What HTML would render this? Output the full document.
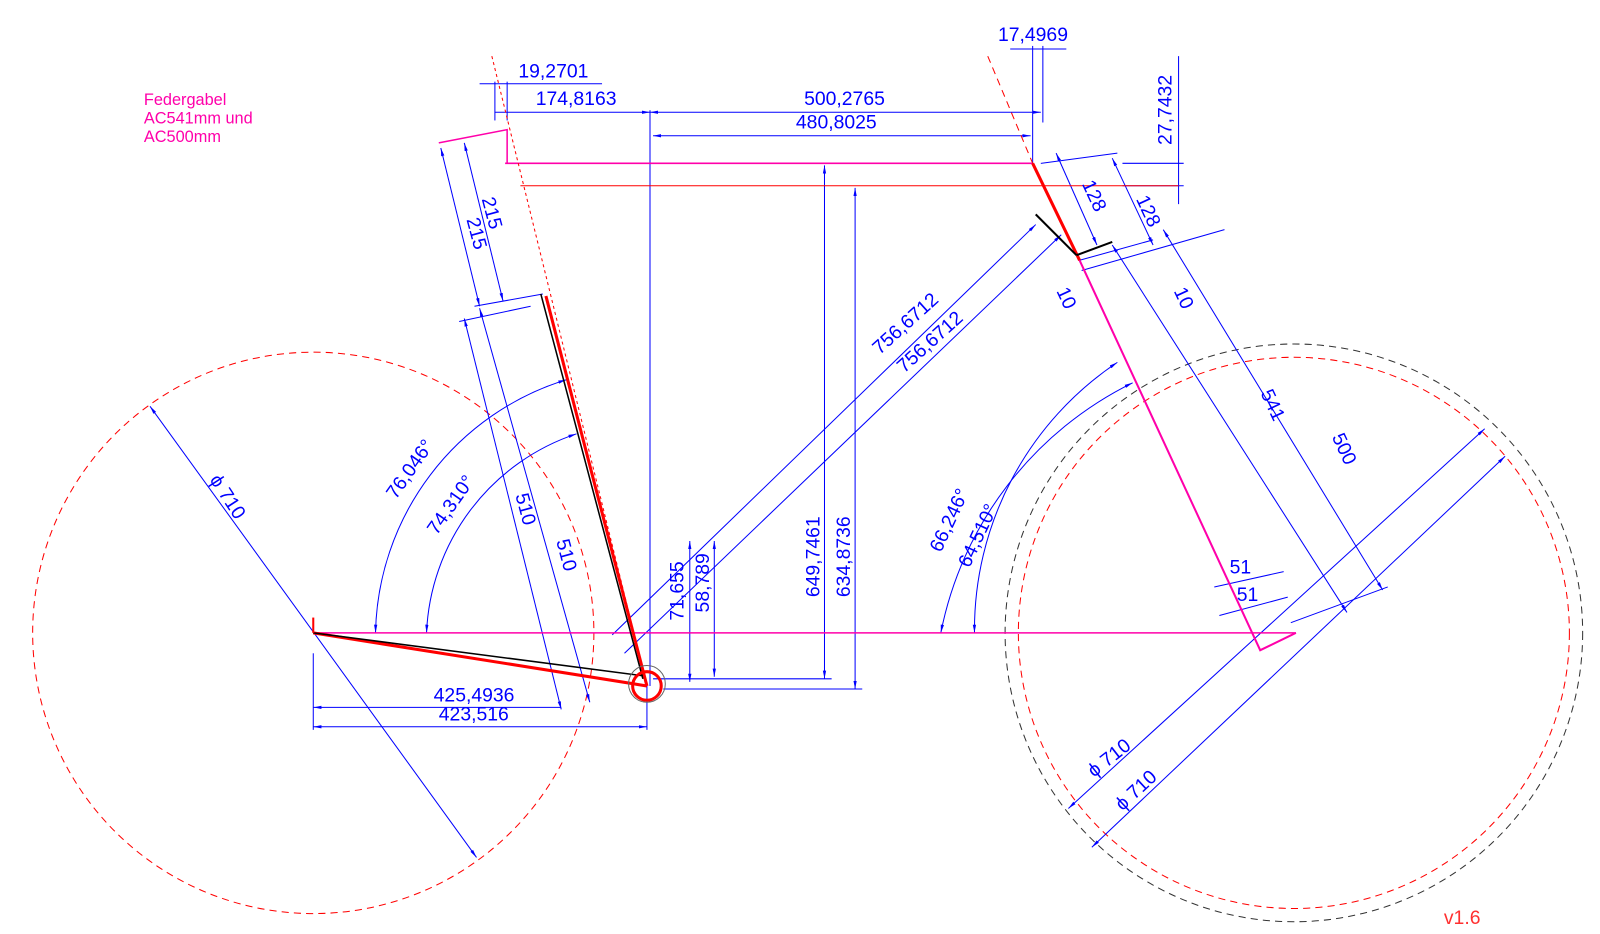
<!DOCTYPE html>
<html><head><meta charset="utf-8"><style>
html,body{margin:0;padding:0;background:#fff;}
svg{display:block;}
text{font-family:"Liberation Sans",sans-serif;font-size:19px;fill:#0000ff;}
.m{fill:#ff00aa;font-size:16px;}
</style></head><body>
<svg width="1600" height="934" viewBox="0 0 1568 915" preserveAspectRatio="none" xmlns="http://www.w3.org/2000/svg">
<defs>
<marker id="a" viewBox="0 0 10 10" refX="10" refY="5" markerWidth="8" markerHeight="8" orient="auto-start-reverse"><path d="M0,3L10,5L0,7z" fill="#0000ff"/></marker>
</defs>
<circle cx="307" cy="620" r="275" fill="none" stroke="#ff0000" stroke-dasharray="7,5" stroke-width="1"/>
<circle cx="1268" cy="620" r="270" fill="none" stroke="#ff0000" stroke-dasharray="7,5" stroke-width="1"/>
<circle cx="1268" cy="620" r="283" fill="none" stroke="#333" stroke-dasharray="7,5" stroke-width="1"/>
<g stroke="#0000ff" stroke-width="1" fill="none">
<line x1="147" y1="398" x2="467" y2="840" marker-start="url(#a)" marker-end="url(#a)"/>
<line x1="1047" y1="792" x2="1455" y2="420" marker-start="url(#a)" marker-end="url(#a)"/>
<line x1="1070" y1="830" x2="1475" y2="447" marker-start="url(#a)" marker-end="url(#a)"/>
<line x1="307" y1="640" x2="307" y2="715"/>
<line x1="634" y1="672" x2="634" y2="715"/>
<line x1="307" y1="693" x2="550" y2="693" marker-start="url(#a)"/>
<line x1="307" y1="712" x2="634" y2="712" marker-start="url(#a)" marker-end="url(#a)"/>
<line x1="637" y1="108" x2="637" y2="672"/>
<line x1="637" y1="110" x2="1020" y2="110" marker-start="url(#a)" marker-end="url(#a)"/>
<line x1="640" y1="133" x2="1010" y2="133" marker-start="url(#a)" marker-end="url(#a)"/>
<line x1="485" y1="110" x2="637" y2="110" marker-end="url(#a)"/>
<line x1="485" y1="80" x2="485" y2="118"/>
<line x1="497" y1="80" x2="497" y2="118"/>
<line x1="470" y1="82" x2="590" y2="82"/>
<line x1="1012" y1="45" x2="1012" y2="160"/>
<line x1="1022" y1="45" x2="1022" y2="120"/>
<line x1="990" y1="48" x2="1045" y2="48"/>
<line x1="1155" y1="55" x2="1155" y2="200"/>
<line x1="1100" y1="160" x2="1160" y2="160"/>
<line x1="1100" y1="182" x2="1160" y2="182"/>
<line x1="808" y1="162" x2="808" y2="665" marker-start="url(#a)" marker-end="url(#a)"/>
<line x1="838" y1="184" x2="838" y2="675" marker-start="url(#a)" marker-end="url(#a)"/>
<line x1="640" y1="665" x2="815" y2="665"/>
<line x1="650" y1="675" x2="845" y2="675"/>
<line x1="676" y1="530" x2="676" y2="668" marker-start="url(#a)" marker-end="url(#a)"/>
<line x1="700" y1="530" x2="700" y2="663" marker-start="url(#a)" marker-end="url(#a)"/>
<line x1="600" y1="622" x2="1015" y2="220" marker-end="url(#a)"/>
<line x1="612" y1="640" x2="1040" y2="230" marker-end="url(#a)"/>
<line x1="432" y1="145" x2="470" y2="300" marker-start="url(#a)" marker-end="url(#a)"/>
<line x1="455" y1="140" x2="493" y2="295" marker-start="url(#a)" marker-end="url(#a)"/>
<line x1="455" y1="312" x2="550" y2="695" marker-start="url(#a)" marker-end="url(#a)"/>
<line x1="470" y1="302" x2="578" y2="688" marker-start="url(#a)" marker-end="url(#a)"/>
<line x1="465" y1="300" x2="532" y2="288"/>
<line x1="450" y1="315" x2="520" y2="300"/>
<line x1="1035" y1="150" x2="1075" y2="240" marker-start="url(#a)" marker-end="url(#a)"/>
<line x1="1090" y1="155" x2="1130" y2="240" marker-start="url(#a)" marker-end="url(#a)"/>
<line x1="1020" y1="160" x2="1095" y2="150"/>
<line x1="1060" y1="265" x2="1200" y2="225"/>
<line x1="1058" y1="255" x2="1130" y2="235"/>
<line x1="1140" y1="225" x2="1355" y2="578" marker-start="url(#a)" marker-end="url(#a)"/>
<line x1="1090" y1="240" x2="1320" y2="600" marker-start="url(#a)" marker-end="url(#a)"/>
<line x1="1265" y1="610" x2="1360" y2="575"/>
<line x1="1190" y1="575" x2="1258" y2="560"/>
<line x1="1195" y1="603" x2="1262" y2="585"/>
<path d="M368,620 A265,265 0 0 1 555,372" marker-start="url(#a)" marker-end="url(#a)"/>
<path d="M418,620 A215,215 0 0 1 565,425" marker-start="url(#a)" marker-end="url(#a)"/>
<path d="M922,620 A348,348 0 0 1 1110,375" marker-start="url(#a)" marker-end="url(#a)"/>
<path d="M955,620 A315,315 0 0 1 1095,355" marker-start="url(#a)" marker-end="url(#a)"/>
</g>
<line x1="307" y1="620" x2="1270" y2="620" stroke="#ff00aa" stroke-width="1.5"/>
<line x1="495" y1="160" x2="1012" y2="160" stroke="#ff00aa" stroke-width="1.5"/>
<line x1="510" y1="182" x2="1155" y2="182" stroke="#ff0000" stroke-width="1"/>
<line x1="482" y1="55" x2="634" y2="672" stroke="#ff0000" stroke-width="1" stroke-dasharray="3,3"/>
<line x1="968" y1="55" x2="1012" y2="160" stroke="#ff0000" stroke-width="1" stroke-dasharray="7,5"/>
<polyline points="430,140 497,127 497,160" fill="none" stroke="#ff00aa" stroke-width="1.5"/>
<line x1="634" y1="672" x2="535" y2="290" stroke="#ff0000" stroke-width="3"/>
<line x1="630" y1="665" x2="530" y2="288" stroke="#000" stroke-width="1.5"/>
<line x1="307" y1="620" x2="634" y2="672" stroke="#ff0000" stroke-width="3"/>
<line x1="307" y1="620" x2="630" y2="662" stroke="#000" stroke-width="1.5"/>
<line x1="307" y1="605" x2="307" y2="620" stroke="#ff0000" stroke-width="2"/>
<circle cx="634" cy="672" r="14" fill="none" stroke="#ff0000" stroke-width="3"/>
<circle cx="634" cy="670" r="18" fill="none" stroke="#666" stroke-width="1"/>
<line x1="1012" y1="160" x2="1058" y2="255" stroke="#ff0000" stroke-width="3"/>
<line x1="1015" y1="210" x2="1055" y2="250" stroke="#000" stroke-width="2"/>
<line x1="1055" y1="250" x2="1090" y2="237" stroke="#000" stroke-width="2"/>
<polyline points="1058,255 1235,637 1270,620" fill="none" stroke="#ff00aa" stroke-width="2"/>
<text class="m" x="141" y="103">Federgabel</text>
<text class="m" x="141" y="121">AC541mm und</text>
<text class="m" x="141" y="139">AC500mm</text>
<text x="508" y="76">19,2701</text>
<text x="525" y="103">174,8163</text>
<text x="788" y="103">500,2765</text>
<text x="780" y="126">480,8025</text>
<text x="978" y="40">17,4969</text>
<text transform="translate(1148,142) rotate(-90)">27,7432</text>
<text transform="translate(1060,180) rotate(65)">128</text>
<text transform="translate(1113,195) rotate(65)">128</text>
<text transform="translate(1035,285) rotate(65)">10</text>
<text transform="translate(1150,285) rotate(65)">10</text>
<text transform="translate(862,348) rotate(-42)">756,6712</text>
<text transform="translate(886,366) rotate(-42)">756,6712</text>
<text transform="translate(1235,385) rotate(65)">541</text>
<text transform="translate(1305,428) rotate(65)">500</text>
<text transform="translate(803,585) rotate(-90)">649,7461</text>
<text transform="translate(833,585) rotate(-90)">634,8736</text>
<text transform="translate(670,608) rotate(-90)">71,655</text>
<text transform="translate(695,600) rotate(-90)">58,789</text>
<text transform="translate(922,542) rotate(-65)">66,246°</text>
<text transform="translate(950,557) rotate(-65)">64,510°</text>
<text transform="translate(388,490) rotate(-55)">76,046°</text>
<text transform="translate(428,525) rotate(-55)">74,310°</text>
<text transform="translate(505,485) rotate(75)">510</text>
<text transform="translate(545,530) rotate(75)">510</text>
<text transform="translate(472,195) rotate(75)">215</text>
<text transform="translate(457,215) rotate(75)">215</text>
<text transform="translate(205,470) rotate(57)">ϕ 710</text>
<text x="425" y="687">425,4936</text>
<text x="430" y="706">423,516</text>
<text x="1205" y="562">51</text>
<text x="1212" y="589">51</text>
<text transform="translate(1072,762) rotate(-38)">ϕ 710</text>
<text transform="translate(1100,795) rotate(-43)">ϕ 710</text>
<text x="1415" y="905" style="fill:#ff3030">v1.6</text>
</svg>
</body></html>
